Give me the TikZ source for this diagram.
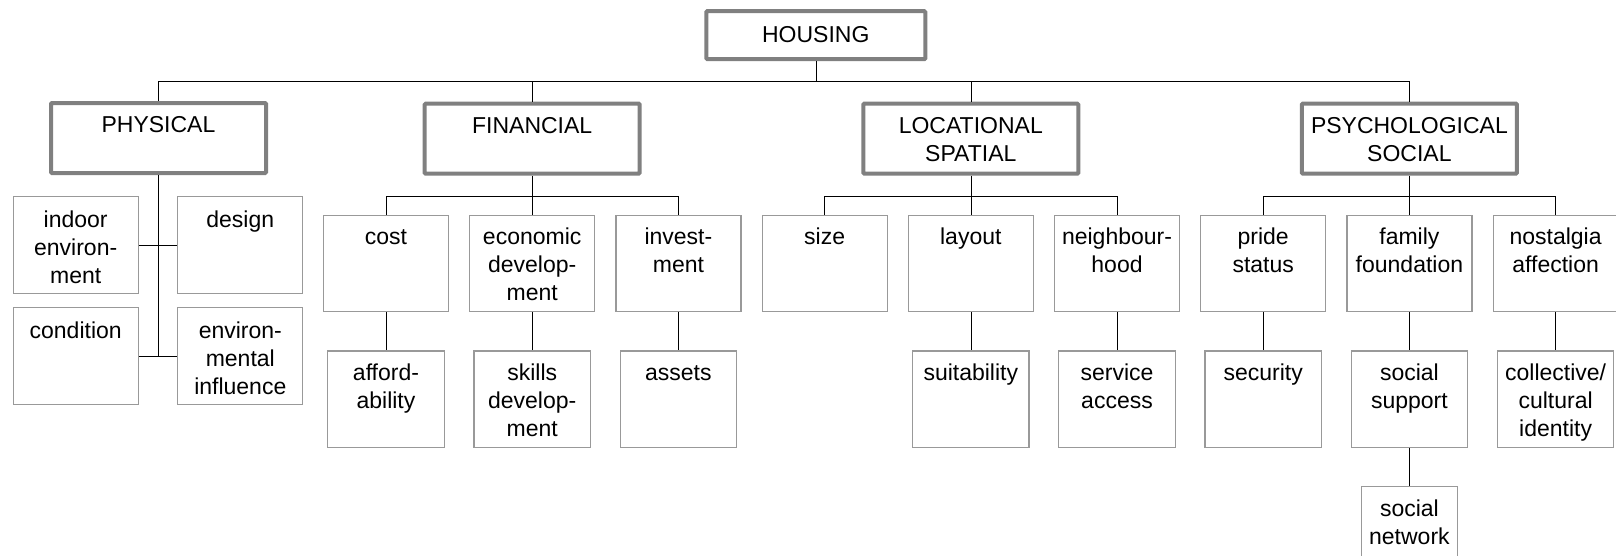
\documentclass[tikz,border=0pt]{standalone}
\usepackage{fontspec}
\setmainfont{Liberation Sans}
\usetikzlibrary{positioning}
\definecolor{framegray}{gray}{0.5}
\definecolor{boxgray}{gray}{0.6}
\newcommand{\cbox}[4][10pt]{\parbox[t][#3][t]{#2}{\centering\vspace*{#1}\strut#4}}
\tikzset{
  main/.style={draw=framegray, line width=4pt, rounded corners=1pt, inner sep=0pt},
  sub/.style={draw=boxgray, line width=1.2pt, inner sep=0pt},
  x=1pt, y=-1pt, line width=1.2pt, node distance=20pt,
  every node/.style={font=\fontsize{23}{28}\selectfont}
}

\begin{document}
\begin{tikzpicture}
    \useasboundingbox (0,0) rectangle (1616,555);

    \node[main] (house) at (815.8,35.2) {\cbox[12pt]{219pt}{48pt}{HOUSING}};
    \node[main] (phys) at (158.5,138) {\cbox{215pt}{70pt}{PHYSICAL}};

    % physical
    \node[sub] (pa) at (75.7,245) {\cbox[11pt]{125pt}{97pt}{indoor\\ environ-\\ ment}};
    \node[sub, right=38.4pt of pa] (pb) {\cbox[11pt]{125pt}{97pt}{design}};
    \node[sub, below=12.8pt of pa] (pc) {\cbox[11pt]{125pt}{97pt}{condition}};
    \node[sub, right=38.4pt of pc] (pd) {\cbox[11pt]{125pt}{97pt}{environ-\\ mental\\ influence}};

    % first row
    \node[sub] (f0) at (386,263.5) {\cbox{125pt}{96.5pt}{cost}};
    \node[sub, right = of f0] (f1) {\cbox{125pt}{96.5pt}{economic\\ develop-\\ ment}};
    \node[sub, right = of f1] (f2) {\cbox{125pt}{96.5pt}{invest-\\ ment}};
    \node[sub, right = of f2] (l0) {\cbox{125pt}{96.5pt}{size}};
    \node[sub, right = of l0] (l1) {\cbox{125pt}{96.5pt}{layout}};
    \node[sub, right = of l1] (l2) {\cbox{125pt}{96.5pt}{neighbour-\\ hood}};
    \node[sub, right = of l2] (s0) {\cbox{125pt}{96.5pt}{pride\\ status}};
    \node[sub, right = of s0] (s1) {\cbox{125pt}{96.5pt}{family\\ foundation}};
    \node[sub, right = of s1] (s2) {\cbox{125pt}{96.5pt}{nostalgia\\ affection}};

    \node[main, above=39pt of f1] (fin) {\cbox{215pt}{70pt}{FINANCIAL}};
    \node[main, above=39pt of l1] (loc) {\cbox{215pt}{70pt}{LOCATIONAL\\ SPATIAL}};
    \node[main, above=39pt of s1] (psy) {\cbox{215pt}{70pt}{PSYCHOLOGICAL\\ SOCIAL}};

    % second row
    \node[sub, below=38pt of f0] (g0) {\cbox{116.5pt}{96.5pt}{afford-\\ ability}};
    \node[sub, below=38pt of f1] (g1) {\cbox{116.5pt}{96.5pt}{skills\\ develop-\\ ment}};
    \node[sub, below=38pt of f2] (g2) {\cbox{116.5pt}{96.5pt}{assets}};
    \node[sub, below=38pt of l1] (m1) {\cbox{116.5pt}{96.5pt}{suitability}};
    \node[sub, below=38pt of l2] (m2) {\cbox{116.5pt}{96.5pt}{service\\ access}};
    \node[sub, below=38pt of s0] (t0) {\cbox{116.5pt}{96.5pt}{security}};
    \node[sub, below=38pt of s1] (t1) {\cbox{116.5pt}{96.5pt}{social\\ support}};
    \node[sub, below=38pt of s2] (t2) {\cbox{116.5pt}{96.5pt}{collective/\\ cultural\\ identity}};
    \node[sub, below=38pt of t1] (u1) {\cbox{96.5pt}{96.5pt}{social\\ network}};

    \draw (house.south) -- ++(0,19.5) -| (phys.north)
          (house.south) -- ++(0,19.5) -| (fin.north)
          (house.south) -- ++(0,19.5) -| (loc.north)
          (house.south) -- ++(0,19.5) -| (psy.north);

    \draw (phys.south) -- (phys.south |- pc.east)
          (pa.east) -- (pb.west)
          (pc.east) -- (pd.west);

    \draw (fin.south) -- ++(0,20.7) -| (f0.north)
          (fin.south) -- (f1.north)
          (fin.south) -- ++(0,20.7) -| (f2.north)
          (loc.south) -- ++(0,20.7) -| (l0.north)
          (loc.south) -- (l1.north)
          (loc.south) -- ++(0,20.7) -| (l2.north)
          (psy.south) -- ++(0,20.7) -| (s0.north)
          (psy.south) -- (s1.north)
          (psy.south) -- ++(0,20.7) -| (s2.north);

    \draw (f0) edge (g0)
          (f1) edge (g1)
          (f2) edge (g2)
          (l1) edge (m1)
          (l2) edge (m2)
          (s0) edge (t0)
          (s1) edge (t1)
          (s2) edge (t2)
          (t1) edge (u1);
\end{tikzpicture}
\end{document}
